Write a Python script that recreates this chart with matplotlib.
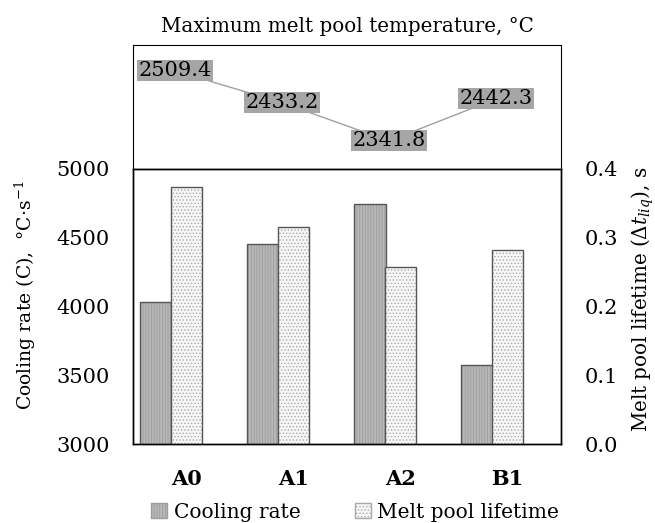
import matplotlib.pyplot as plt
from matplotlib.patches import Patch
import numpy as np

categories = ["A0", "A1", "A2", "B1"]
cooling_rate = [4035, 4452, 4748, 3572]          # °C/s, left axis
pool_lifetime = [0.373, 0.316, 0.257, 0.282]     # s, right axis
max_temp = [2509.4, 2433.2, 2341.8, 2442.3]      # °C, top panel

plt.rcParams['font.family'] = ['DejaVu Serif']
plt.rcParams['mathtext.fontset'] = 'dejavuserif'
plt.rcParams['font.size'] = 15
plt.rcParams['hatch.linewidth'] = 0.6

cool_fill, cool_hatch = '#b8b8b8', '#9c9c9c'
life_fill, life_hatch = '#f7f7f7', '#a8a8a8'
edge = '#555555'

fig = plt.figure(figsize=(6.55, 5.23), dpi=100)
ax_top = fig.add_axes([0.203, 0.677, 0.6535, 0.237])
ax = fig.add_axes([0.203, 0.151, 0.6535, 0.526])
ax2 = ax.twinx()

x = np.arange(len(categories))
w = 0.29

# --- bars (hatch layer + outline layer) ---
ax.bar(x - 0.285, cooling_rate, w, color=cool_fill, edgecolor=cool_hatch,
       linewidth=0, hatch='||||||')
ax.bar(x - 0.285, cooling_rate, w, fill=False, edgecolor=edge, linewidth=1)
ax2.bar(x + 0.003, pool_lifetime, w, color=life_fill, edgecolor=life_hatch,
        linewidth=0, hatch='.....')
ax2.bar(x + 0.003, pool_lifetime, w, fill=False, edgecolor=edge, linewidth=1)

ax.set_xlim(-0.5, 3.5)
ax.set_ylim(3000, 5000)
ax2.set_ylim(0, 0.4)
ax.set_yticks(np.arange(3000, 5001, 500))
ax2.set_yticks(np.arange(0, 0.41, 0.1))
ax2.set_yticklabels([f"{v:.1f}" for v in np.arange(0, 0.41, 0.1)])
ax.set_xticks(x)
ax.set_xticklabels(categories, fontweight='bold')
ax.tick_params(axis='x', length=0, pad=18)
ax.tick_params(axis='y', length=0, pad=16.5)
ax2.tick_params(length=0, pad=17)

ax.set_ylabel("Cooling rate (C),  °C·s$^{-1}$", fontsize=13.5)
ax.yaxis.set_label_coords(-0.222, 0.54)
ax2.set_ylabel(r"Melt pool lifetime ($\mathit{\Delta t_{liq}}$), s", fontsize=14.3)
ax2.yaxis.set_label_coords(1.16, 0.525)

for a in (ax, ax2):
    for s in a.spines.values():
        s.set_linewidth(1.0)

# --- top panel: max melt pool temperature ---
xt = x - 0.107
ax_top.plot(xt, max_temp, color='#a0a0a0', linewidth=1)
for xi, t in zip(xt, max_temp):
    ax_top.text(xi, t, f"{t:.1f}", ha='center', va='center',
                bbox=dict(boxstyle='square,pad=0.05', fc='#a6a6a6', ec='none'))
ax_top.set_xlim(-0.5, 3.5)
ax_top.set_ylim(2275, 2571)
ax_top.set_xticks([])
ax_top.set_yticks([])
ax_top.set_title("Maximum melt pool temperature, °C", fontsize=14.3, pad=9)

handles = [Patch(facecolor=cool_fill, edgecolor=cool_hatch, hatch='||||||'),
           Patch(facecolor=life_fill, edgecolor=life_hatch, hatch='.....')]
fig.legend(handles, ["Cooling rate", "Melt pool lifetime"], loc='center',
           bbox_to_anchor=(0.542, 0.021), ncol=2, frameon=False, fontsize=14.5,
           handlelength=0.8, handleheight=0.8, handletextpad=0.3,
           columnspacing=2.7)

fig.savefig("out.png", dpi=100)
